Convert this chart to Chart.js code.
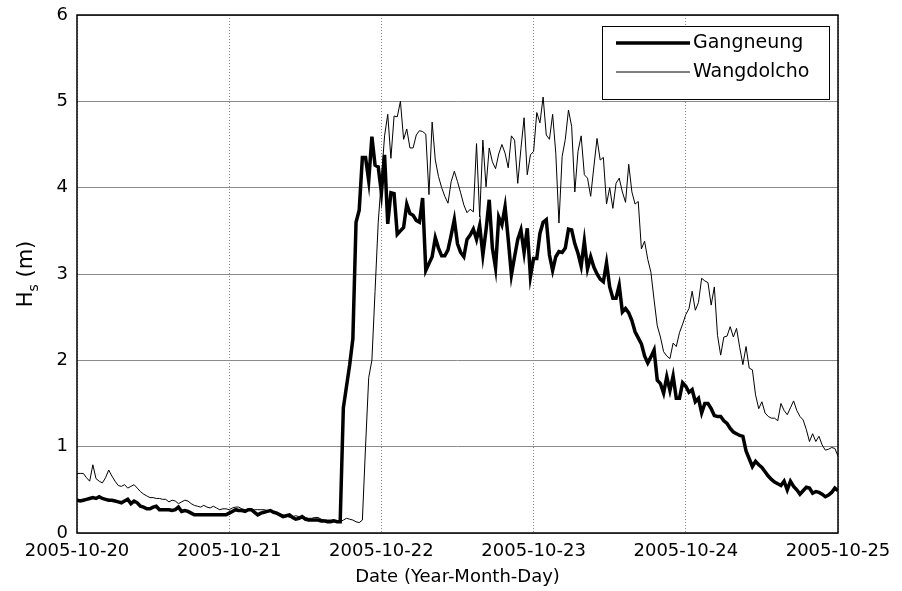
<!DOCTYPE html>
<html>
<head>
<meta charset="utf-8">
<title>Hs - Gangneung / Wangdolcho</title>
<script src="https://cdn.jsdelivr.net/npm/chart.js@4.4.0/dist/chart.umd.min.js"></script>
<style>
  html, body { margin: 0; padding: 0; background: #fff; }
  #wrap { width: 902px; height: 591px; }
</style>
</head>
<body>
<div id="wrap"><canvas id="hsChart" width="902" height="591"></canvas></div>
<script>
// --- Data: significant wave height Hs (m), every 30 minutes from 2005-10-20 00:00 ---
const stepHours = 0.5;
const dayTicks = ['2005-10-20', '2005-10-21', '2005-10-22', '2005-10-23', '2005-10-24', '2005-10-25'];
const yTicks = [0, 1, 2, 3, 4, 5, 6];
const seriesNames = ['Gangneung', 'Wangdolcho'];

const gangneung = [
    0.38, 0.37, 0.38, 0.39, 0.40, 0.41, 0.40, 0.42, 0.40, 0.39,
    0.38, 0.38, 0.37, 0.36, 0.35, 0.37, 0.39, 0.34, 0.37, 0.35,
    0.31, 0.30, 0.28, 0.28, 0.30, 0.31, 0.27, 0.27, 0.27, 0.27,
    0.26, 0.27, 0.30, 0.25, 0.26, 0.25, 0.23, 0.21, 0.21, 0.21,
    0.21, 0.21, 0.21, 0.21, 0.21, 0.21, 0.21, 0.21, 0.23, 0.25,
    0.27, 0.26, 0.26, 0.25, 0.27, 0.27, 0.24, 0.21, 0.23, 0.24,
    0.25, 0.26, 0.24, 0.23, 0.21, 0.19, 0.20, 0.21, 0.18, 0.16,
    0.17, 0.19, 0.16, 0.15, 0.15, 0.15, 0.15, 0.14, 0.14, 0.13,
    0.13, 0.14, 0.13, 0.13, 1.45, 1.70, 1.95, 2.25, 3.60, 3.74,
    4.35, 4.35, 4.08, 4.59, 4.26, 4.24, 3.94, 4.38, 3.58, 3.94,
    3.93, 3.46, 3.50, 3.54, 3.81, 3.70, 3.68, 3.62, 3.60, 3.88,
    3.04, 3.12, 3.20, 3.42, 3.30, 3.21, 3.21, 3.28, 3.45, 3.63,
    3.35, 3.25, 3.20, 3.40, 3.45, 3.52, 3.40, 3.56, 3.22, 3.51,
    3.86, 3.30, 3.07, 3.66, 3.57, 3.78, 3.40, 2.99, 3.20, 3.40,
    3.51, 3.25, 3.53, 2.97, 3.18, 3.18, 3.47, 3.60, 3.63, 3.22,
    3.04, 3.20, 3.26, 3.25, 3.30, 3.52, 3.51, 3.35, 3.24, 3.09,
    3.38, 3.06, 3.20, 3.08, 3.00, 2.94, 2.91, 3.13, 2.85, 2.72,
    2.72, 2.87, 2.56, 2.60, 2.55, 2.46, 2.33, 2.26, 2.19, 2.05,
    1.97, 2.04, 2.12, 1.77, 1.73, 1.62, 1.81, 1.65, 1.82, 1.56,
    1.56, 1.74, 1.70, 1.63, 1.66, 1.52, 1.56, 1.39, 1.50, 1.50,
    1.44, 1.36, 1.35, 1.35, 1.30, 1.27, 1.21, 1.17, 1.15, 1.13,
    1.12, 0.95, 0.86, 0.77, 0.83, 0.79, 0.76, 0.71, 0.66, 0.62,
    0.59, 0.57, 0.55, 0.60, 0.50, 0.60, 0.54, 0.50, 0.45, 0.49,
    0.53, 0.52, 0.46, 0.48, 0.47, 0.45, 0.42, 0.44, 0.47, 0.52,
    0.49
];

const wangdolcho = [
    0.69, 0.69, 0.69, 0.64, 0.60, 0.79, 0.63, 0.60, 0.58, 0.64,
    0.73, 0.66, 0.60, 0.55, 0.54, 0.56, 0.52, 0.54, 0.56, 0.52,
    0.48, 0.45, 0.43, 0.41, 0.41, 0.40, 0.40, 0.39, 0.39, 0.36,
    0.38, 0.37, 0.34, 0.36, 0.38, 0.37, 0.34, 0.32, 0.31, 0.30,
    0.32, 0.30, 0.29, 0.31, 0.29, 0.27, 0.28, 0.28, 0.27, 0.29,
    0.30, 0.30, 0.28, 0.27, 0.27, 0.27, 0.27, 0.27, 0.27, 0.27,
    0.26, 0.25, 0.23, 0.22, 0.22, 0.21, 0.20, 0.18, 0.19, 0.20,
    0.19, 0.19, 0.18, 0.17, 0.17, 0.18, 0.18, 0.16, 0.15, 0.15,
    0.15, 0.15, 0.14, 0.13, 0.15, 0.17, 0.16, 0.15, 0.13, 0.12,
    0.15, 1.00, 1.80, 2.00, 2.80, 3.60, 4.10, 4.60, 4.85, 4.34,
    4.83, 4.82, 5.00, 4.56, 4.68, 4.46, 4.46, 4.61, 4.66, 4.65,
    4.62, 3.92, 4.76, 4.32, 4.13, 4.00, 3.90, 3.82, 4.07, 4.19,
    4.07, 3.94, 3.80, 3.71, 3.75, 3.72, 4.51, 3.66, 4.55, 4.01,
    4.46, 4.30, 4.22, 4.39, 4.50, 4.40, 4.23, 4.60, 4.55, 4.05,
    4.45, 4.81, 4.15, 4.38, 4.42, 4.87, 4.75, 5.05, 4.61, 4.56,
    4.85, 4.40, 3.59, 4.36, 4.56, 4.90, 4.71, 3.95, 4.42, 4.60,
    4.15, 4.11, 3.90, 4.24, 4.57, 4.32, 4.35, 3.81, 4.00, 3.76,
    4.05, 4.11, 3.95, 3.83, 4.27, 3.95, 3.81, 3.84, 3.29, 3.38,
    3.17, 3.02, 2.70, 2.40, 2.27, 2.10, 2.05, 2.02, 2.20, 2.16,
    2.32, 2.42, 2.53, 2.60, 2.80, 2.58, 2.67, 2.95, 2.92, 2.90,
    2.64, 2.85, 2.29, 2.06, 2.27, 2.28, 2.39, 2.27, 2.37, 2.15,
    1.95, 2.16, 1.91, 1.89, 1.60, 1.44, 1.52, 1.39, 1.35, 1.33,
    1.33, 1.30, 1.50, 1.42, 1.37, 1.45, 1.53, 1.42, 1.35, 1.31,
    1.20, 1.06, 1.15, 1.06, 1.12, 1.02, 0.96, 0.97, 0.99, 0.98,
    0.89
];

// --- Helpers ---
const FONT_FAMILY = "'DejaVu Sans', 'Liberation Sans', sans-serif";
const toPoints = (values) => values.map((v, i) => ({ x: i * stepHours, y: v }));
const hoursPerDay = 24;

// Black box around the plot area (MATLAB style)
const frameBox = {
    id: 'frameBox',
    afterDraw(chart) {
        const { ctx, chartArea: a } = chart;
        ctx.save();
        ctx.strokeStyle = '#000';
        ctx.lineWidth = 1.5;
        ctx.strokeRect(a.left, a.top, a.right - a.left, a.bottom - a.top);
        ctx.restore();
    }
};

// Legend inside the axes, top right, with a border
const boxedLegend = {
    id: 'boxedLegend',
    afterDraw(chart) {
        const { ctx, chartArea: a } = chart;
        const boxW = 227, boxH = 73;
        const x0 = a.right - 9 - boxW, y0 = a.top + 11;
        ctx.save();
        ctx.fillStyle = '#fff';
        ctx.fillRect(x0, y0, boxW, boxH);
        ctx.strokeStyle = '#000';
        ctx.lineWidth = 1;
        ctx.strokeRect(x0 + 0.5, y0 + 0.5, boxW, boxH);
        ctx.font = `19px ${FONT_FAMILY}`;
        ctx.textBaseline = 'middle';
        ctx.fillStyle = '#000';
        chart.data.datasets.forEach((ds, i) => {
            const y = y0 + 17 + i * 29;
            ctx.beginPath();
            ctx.lineWidth = ds.borderWidth;
            ctx.strokeStyle = ds.borderColor;
            ctx.moveTo(x0 + 14, y);
            ctx.lineTo(x0 + 88, y);
            ctx.stroke();
            ctx.fillText(ds.label, x0 + 91, y);
        });
        ctx.restore();
    }
};

// Y axis title with subscript: H_s (m)
const yTitle = {
    id: 'yTitle',
    afterDraw(chart) {
        const { ctx, chartArea: a } = chart;
        const cy = (a.top + a.bottom) / 2;
        ctx.save();
        ctx.translate(32, cy);
        ctx.rotate(-Math.PI / 2);
        ctx.fillStyle = '#000';
        ctx.textBaseline = 'alphabetic';
        const big = `21px ${FONT_FAMILY}`, small = `14px ${FONT_FAMILY}`;
        ctx.font = big;
        const wH = ctx.measureText('H').width;
        const wM = ctx.measureText(' (m)').width;
        ctx.font = small;
        const wS = ctx.measureText('s').width;
        let x = -(wH + wS + wM) / 2;
        ctx.font = big;
        ctx.fillText('H', x, 0);
        x += wH;
        ctx.font = small;
        ctx.fillText('s', x, 6);
        x += wS;
        ctx.font = big;
        ctx.fillText(' (m)', x, 0);
        ctx.restore();
    }
};

document.addEventListener('DOMContentLoaded', () => {
    const ctx = document.getElementById('hsChart').getContext('2d');
    new Chart(ctx, {
        type: 'line',
        data: {
            datasets: [
                {
                    label: seriesNames[0],
                    data: toPoints(gangneung),
                    borderColor: '#000',
                    borderWidth: 3.5,
                    pointRadius: 0,
                    tension: 0,
                    fill: false
                },
                {
                    label: seriesNames[1],
                    data: toPoints(wangdolcho),
                    borderColor: '#000',
                    borderWidth: 1,
                    pointRadius: 0,
                    tension: 0,
                    fill: false
                }
            ]
        },
        options: {
            responsive: false,
            animation: false,
            layout: { padding: { top: 15, right: 64, left: 0, bottom: 0 } },
            plugins: {
                legend: { display: false },
                tooltip: { enabled: false }
            },
            scales: {
                x: {
                    type: 'linear',
                    min: 0,
                    max: (dayTicks.length - 1) * hoursPerDay,
                    afterBuildTicks: (scale) => {
                        scale.ticks = dayTicks.map((_, i) => ({ value: i * hoursPerDay }));
                    },
                    afterFit: (scale) => {
                        scale.height = 58;
                        scale.paddingLeft = 0;
                        scale.paddingRight = 0;
                    },
                    ticks: {
                        callback: (value) => dayTicks[Math.round(value / hoursPerDay)],
                        color: '#000',
                        font: { family: FONT_FAMILY, size: 18 },
                        padding: 8,
                        maxRotation: 0,
                        autoSkip: false
                    },
                    grid: { color: '#8a8a8a', lineWidth: 1, drawTicks: false },
                    border: { display: false, dash: [1, 2] },
                    title: {
                        display: true,
                        text: 'Date (Year-Month-Day)',
                        color: '#000',
                        font: { family: FONT_FAMILY, size: 18 },
                        padding: { top: 0, bottom: 3 }
                    }
                },
                y: {
                    min: yTicks[0],
                    max: yTicks[yTicks.length - 1],
                    afterBuildTicks: (scale) => {
                        scale.ticks = yTicks.map((v) => ({ value: v }));
                    },
                    afterFit: (scale) => {
                        scale.width = 77;
                        scale.paddingTop = 0;
                        scale.paddingBottom = 0;
                    },
                    ticks: {
                        color: '#000',
                        font: { family: FONT_FAMILY, size: 18 },
                        padding: 9
                    },
                    grid: { color: '#8a8a8a', lineWidth: 1, drawTicks: false },
                    border: { display: false }
                }
            }
        },
        plugins: [frameBox, boxedLegend, yTitle]
    });
});
</script>
</body>
</html>
